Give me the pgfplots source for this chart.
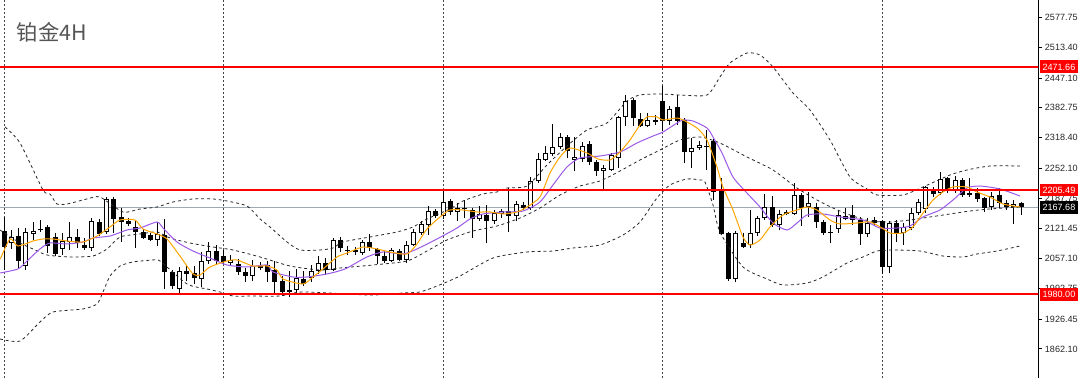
\documentclass[border=0pt]{standalone}
\usepackage{pgfplots}
\pgfplotsset{compat=1.18}
\usepackage{pgfplotstable}
\usepackage{fontspec}
\setmainfont{Liberation Sans}
\newfontfamily\cjk{Noto Sans CJK SC}
\definecolor{maorange}{RGB}{255,165,0}
\definecolor{mapurple}{RGB}{155,89,232}
\definecolor{bidgray}{RGB}{160,168,180}
\definecolor{sepgray}{RGB}{70,70,70}
\definecolor{titlegray}{RGB}{85,85,85}

\pgfplotstableread{
i O H L C
0 2116.7 2147.0 2032.5 2082.2
1 2090.8 2118.9 2077.9 2103.8
2 2105.9 2123.2 2036.8 2051.9
3 2041.1 2123.2 2032.5 2114.6
4 2110.3 2136.2 2097.3 2116.7
5 2121.1 2140.5 2114.6 2118.9
6 2125.4 2129.7 2069.2 2084.3
7 2103.8 2112.4 2062.7 2067.1
8 2077.9 2112.4 2064.9 2095.1
9 2093.0 2136.2 2075.7 2103.8
10 2103.8 2121.1 2080.0 2090.8
11 2086.5 2101.6 2075.7 2080.0
12 2080.0 2144.8 2073.5 2138.3
13 2136.2 2142.7 2105.9 2110.3
14 2114.6 2190.2 2110.3 2185.9
15 2185.9 2190.2 2112.4 2142.7
16 2147.0 2166.4 2093.0 2136.2
17 2138.3 2144.8 2127.5 2131.9
18 2125.4 2138.3 2080.0 2114.6
19 2114.6 2121.1 2099.5 2101.6
20 2108.1 2112.4 2095.1 2097.3
21 2097.3 2136.2 2084.3 2110.3
22 2108.1 2142.7 1991.5 2028.2
23 2028.2 2032.5 1991.5 1997.9
24 1991.5 2039.0 1982.8 2030.3
25 2030.3 2043.3 2008.7 2023.9
26 2026.0 2041.1 2002.3 2015.2
27 2013.1 2071.4 1995.8 2051.9
28 2051.9 2093.0 2045.5 2073.5
29 2073.5 2086.5 2043.3 2051.9
30 2062.7 2075.7 2045.5 2049.8
31 2047.6 2064.9 2043.3 2054.1
32 2045.5 2056.3 2021.7 2028.2
33 2028.2 2036.8 2006.6 2019.5
34 2019.5 2054.1 2008.7 2041.1
35 2041.1 2049.8 2032.5 2036.8
36 2043.3 2051.9 2006.6 2028.2
37 2032.5 2051.9 1978.5 2006.6
38 2008.7 2019.5 1976.3 1985.0
39 1985.0 2030.3 1974.2 1989.3
40 1989.3 2034.7 1980.7 2015.2
41 2013.1 2030.3 1997.9 2002.3
42 2015.2 2043.3 2006.6 2030.3
43 2030.3 2062.7 2023.9 2047.6
44 2047.6 2058.4 2021.7 2032.5
45 2032.5 2101.6 2030.3 2097.3
46 2097.3 2103.8 2071.4 2080.0
47 2075.7 2084.3 2064.9 2073.5
48 2075.7 2082.2 2064.9 2071.4
49 2069.2 2097.3 2064.9 2093.0
50 2093.0 2110.3 2073.5 2080.0
51 2077.9 2080.0 2045.5 2062.7
52 2062.7 2073.5 2047.6 2051.9
53 2051.9 2080.0 2049.8 2075.7
54 2073.5 2077.9 2051.9 2054.1
55 2054.1 2095.1 2047.6 2086.5
56 2086.5 2121.1 2084.3 2114.6
57 2112.4 2138.3 2108.1 2131.9
58 2129.7 2170.7 2108.1 2159.9
59 2159.9 2164.3 2144.8 2149.1
60 2149.1 2203.1 2142.7 2179.4
61 2181.5 2185.9 2151.3 2157.8
62 2157.8 2177.2 2138.3 2166.4
63 2166.4 2183.7 2144.8 2164.3
64 2162.1 2166.4 2101.6 2142.7
65 2142.7 2170.7 2138.3 2153.5
66 2151.3 2172.9 2090.8 2138.3
67 2138.3 2162.1 2131.9 2155.6
68 2153.5 2164.3 2144.8 2159.9
69 2159.9 2209.6 2114.6 2149.1
70 2149.1 2181.5 2138.3 2175.1
71 2172.9 2179.4 2162.1 2166.4
72 2166.4 2233.4 2162.1 2224.7
73 2224.7 2285.2 2220.4 2272.3
74 2270.1 2300.3 2267.9 2285.2
75 2283.1 2347.9 2278.7 2298.2
76 2298.2 2328.4 2293.9 2319.8
77 2319.8 2324.1 2274.4 2289.5
78 2270.1 2319.8 2246.3 2276.6
79 2272.3 2309.0 2265.8 2300.3
80 2304.7 2311.1 2259.3 2265.8
81 2265.8 2270.1 2235.5 2246.3
82 2246.3 2259.3 2205.3 2252.8
83 2248.5 2285.2 2246.3 2280.9
84 2274.4 2365.1 2252.8 2363.0
85 2363.0 2410.5 2343.5 2397.5
86 2399.7 2404.0 2343.5 2360.8
87 2358.7 2371.6 2341.4 2343.5
88 2343.5 2371.6 2341.4 2356.5
89 2356.5 2367.3 2345.7 2352.2
90 2397.5 2429.9 2332.7 2354.3
91 2354.3 2386.7 2345.7 2380.3
92 2384.6 2410.5 2345.7 2354.3
93 2356.5 2360.8 2263.6 2287.4
94 2287.4 2317.6 2252.8 2296.0
95 2296.0 2311.1 2291.7 2302.5
96 2298.2 2334.9 2248.5 2300.3
97 2311.1 2315.5 2183.7 2201.0
98 2205.3 2231.2 2108.1 2110.3
99 2112.4 2114.6 2008.7 2013.1
100 2013.1 2116.7 2006.6 2112.4
101 2090.8 2112.4 2080.0 2082.2
102 2086.5 2162.1 2080.0 2112.4
103 2112.4 2149.1 2105.9 2144.8
104 2144.8 2196.7 2140.5 2168.6
105 2168.6 2192.3 2125.4 2129.7
106 2129.7 2162.1 2118.9 2153.5
107 2157.8 2162.1 2151.3 2153.5
108 2153.5 2220.4 2151.3 2194.5
109 2194.5 2198.8 2127.5 2166.4
110 2168.6 2201.0 2147.0 2177.2
111 2168.6 2177.2 2123.2 2136.2
112 2136.2 2140.5 2108.1 2112.4
113 2114.6 2129.7 2090.8 2112.4
114 2121.1 2162.1 2112.4 2151.3
115 2142.7 2166.4 2140.5 2149.1
116 2151.3 2172.9 2129.7 2140.5
117 2140.5 2147.0 2086.5 2110.3
118 2110.3 2144.8 2103.8 2134.0
119 2140.5 2147.0 2129.7 2134.0
120 2138.3 2140.5 2023.9 2039.0
121 2039.0 2138.3 2026.0 2134.0
122 2134.0 2140.5 2093.0 2112.4
123 2112.4 2134.0 2086.5 2125.4
124 2123.2 2166.4 2118.9 2155.6
125 2155.6 2185.9 2151.3 2179.4
126 2164.3 2213.9 2155.6 2211.8
127 2207.5 2211.8 2190.2 2196.7
128 2198.8 2244.2 2194.5 2229.1
129 2231.2 2233.4 2198.8 2203.1
130 2203.1 2235.5 2198.8 2226.9
131 2226.9 2231.2 2190.2 2194.5
132 2194.5 2231.2 2190.2 2198.8
133 2198.8 2209.6 2179.4 2185.9
134 2188.0 2190.2 2157.8 2166.4
135 2168.6 2201.0 2162.1 2192.3
136 2194.5 2209.6 2166.4 2177.2
137 2177.2 2183.7 2162.1 2168.6
138 2168.6 2183.7 2131.9 2175.1
139 2177.2 2179.4 2151.3 2167.7
}\candles

\begin{document}
\begin{tikzpicture}
\useasboundingbox (0,0) rectangle (810pt,283.5pt);
\begin{axis}[
  at={(0,0)}, anchor=south west,
  scale only axis, width=778.5pt, height=283.5pt,
  xmin=-0.547, xmax=141.32, ymin=1799.2, ymax=2615.7,
  axis x line=none, axis y line*=right,
  axis line style={black, line width=0.75pt},
  ytick={2577.75,2513.40,2447.10,2382.75,2318.40,2252.10,2187.75,2121.45,2057.10,1992.75,1926.45,1862.10},
  yticklabels={2577.75,2513.40,2447.10,2382.75,2318.40,2252.10,2187.75,2121.45,2057.10,1992.75,1926.45,1862.10},
  tick align=outside, major tick length=3pt,
  tick style={black, line width=0.6pt},
  yticklabel style={font=\fontsize{6.8}{8}\selectfont, text=black!85, inner sep=0pt, xshift=2pt},
  clip mode=individual,
  candle/.style={draw=none, mark=none, forget plot,
    error bars/y dir=plus, error bars/y explicit, error bars/error mark=none},
]
% week separators
\foreach \s in {0,30,60,90,120}{
  \edef\tmp{\noexpand\addplot[sepgray, line width=0.75pt, dash pattern=on 1.5pt off 1.5pt, forget plot] coordinates {(\s,1790) (\s,2620)};}
  \tmp
}
% bid line
\addplot[bidgray, line width=0.75pt, forget plot] coordinates {(-1,2167.68) (142,2167.68)};

% wicks
\addplot[candle, error bars/error bar style={draw=black, solid, line width=0.75pt}]
  table[x=i, y=L, y error plus expr=\thisrow{H}-\thisrow{L}] {\candles};
% bodies (black)
\addplot[candle, error bars/error bar style={draw=black, solid, line width=3.75pt}]
  table[x=i, y expr={min(\thisrow{O},\thisrow{C})}, y error plus expr={max(abs(\thisrow{C}-\thisrow{O}),1.6)}] {\candles};
% bull bodies (white inside)
\addplot[candle, error bars/error bar style={draw=white, solid, line width=2.25pt}]
  table[x=i, y expr={\thisrow{O}+2.16}, y error plus expr={max(\thisrow{C}-\thisrow{O}-4.32,0)}] {\candles};

% Bollinger upper
\addplot[black!85, line width=0.6pt, dash pattern=on 2.2pt off 2.2pt, smooth, tension=0.4] coordinates {
(0.14,2341.4) (2.19,2306.8) (5.33,2205.3) (6.29,2196.7) (7.24,2175.1) (8.61,2175.1) (11.34,2185.9) (13.12,2190.2)
(16.26,2157.8) (18.59,2164.3) (20.91,2168.6) (23.10,2179.4) (25.83,2185.9) (28.56,2185.9) (30.48,2181.5) (33.21,2170.7)
(34.99,2142.7) (36.35,2125.4) (38.68,2093.0) (40.45,2075.7) (43.19,2075.7) (44.96,2080.0) (46.33,2093.0) (50.02,2103.8)
(53.71,2114.6) (55.90,2125.4) (57.81,2142.7) (60.95,2164.3) (62.73,2181.5) (65.46,2196.7) (67.38,2201.0) (68.74,2209.6)
(71.48,2213.9) (74.21,2259.3) (76.94,2300.3) (79.68,2334.9) (82.41,2350.0) (85.14,2397.5) (86.92,2410.5) (89.65,2412.7)
(92.39,2410.5) (96.08,2410.5) (97.85,2449.4) (99.22,2479.6) (101.54,2501.2) (103.32,2496.9) (105.10,2471.0) (107.83,2414.8)
(110.15,2378.1) (112.89,2313.3) (115.62,2233.4) (117.94,2207.5) (119.31,2194.5) (122.86,2194.5) (125.60,2211.8) (129.29,2237.7)
(131.61,2248.5) (134.75,2257.1) (138.86,2257.1)};
% Bollinger middle
\addplot[black!85, line width=0.6pt, dash pattern=on 2.2pt off 2.2pt, smooth, tension=0.4] coordinates {
(-0.55,2118.9) (2.19,2090.8) (3.96,2077.9) (5.88,2064.9) (9.02,2060.6) (12.16,2062.7) (14.08,2077.9) (15.85,2103.8)
(18.59,2110.3) (20.91,2114.6) (22.69,2101.6) (25.42,2090.8) (28.56,2082.2) (31.30,2075.7) (34.99,2060.6) (39.09,2041.1)
(43.19,2032.5) (45.92,2036.8) (50.43,2043.3) (55.08,2051.9) (57.81,2073.5) (60.54,2097.3) (64.10,2116.7) (67.38,2127.5)
(70.52,2144.8) (73.25,2166.4) (75.99,2194.5) (78.72,2213.9) (81.45,2224.7) (84.19,2246.3) (86.92,2270.1) (89.65,2291.7)
(92.39,2313.3) (95.12,2319.8) (97.85,2306.8) (101.54,2276.6) (105.10,2248.5) (108.38,2209.6) (111.11,2183.7) (113.30,2166.4)
(115.62,2151.3) (118.35,2138.3) (121.09,2136.2) (123.82,2140.5) (126.56,2147.0) (129.29,2153.5) (132.02,2159.9) (134.75,2164.3)
(138.86,2168.6)};
% Bollinger lower
\addplot[black!85, line width=0.6pt, dash pattern=on 2.2pt off 2.2pt, smooth, tension=0.4] coordinates {
(-0.55,1883.5) (2.19,1879.1) (4.92,1920.2) (6.70,1941.8) (10.80,1948.3) (12.71,1959.1) (13.53,1985.0) (14.49,2019.5)
(15.85,2041.1) (17.63,2049.8) (20.36,2054.1) (21.32,2051.9) (25.01,2002.3) (27.74,1991.5) (29.52,1985.0) (31.30,1976.3)
(34.03,1976.3) (37.72,1976.3) (40.86,1985.0) (50.02,1978.5) (54.53,1982.8) (56.85,1985.0) (59.18,1997.9) (62.32,2019.5)
(66.83,2058.4) (71.48,2071.4) (75.03,2073.5) (77.76,2080.0) (81.45,2086.5) (84.60,2108.1) (86.92,2136.2) (89.24,2188.0)
(91.02,2216.1) (93.35,2229.1) (95.12,2226.9) (95.80,2222.6) (96.90,2172.9) (97.85,2114.6) (101.0,2039.0) (104.28,2013.1)
(106.46,2000.1) (109.74,2004.4) (111.93,2017.4) (115.21,2047.6) (117.40,2060.6) (119.31,2073.5) (121.50,2075.7) (125.19,2073.5)
(128.33,2062.7) (131.07,2060.6) (132.98,2067.1) (135.71,2073.5) (138.86,2084.3)};

% purple MA
\addplot[mapurple, line width=0.75pt, smooth, tension=0.4] coordinates {
(-0.55,2026.0) (1.91,2034.7) (3.14,2051.9) (4.92,2077.9) (6.29,2090.8) (8.61,2088.7) (10.80,2093.0) (12.16,2101.6)
(14.49,2105.9) (16.81,2118.9) (18.59,2123.2) (20.91,2136.2) (21.73,2123.2) (23.64,2093.0) (25.83,2073.5) (28.15,2058.4)
(30.48,2043.3) (33.21,2039.0) (35.94,2043.3) (36.76,2028.2) (39.50,2017.4) (41.41,2017.4) (44.14,2023.9) (46.60,2034.7)
(49.61,2060.6) (51.80,2071.4) (54.53,2067.1) (56.44,2077.9) (59.18,2099.5) (61.91,2123.2) (63.69,2142.7) (65.46,2153.5)
(68.20,2157.8) (70.93,2159.9) (73.25,2179.4) (75.03,2216.1) (76.94,2255.0) (78.72,2274.4) (81.45,2278.7) (84.19,2287.4)
(86.51,2306.8) (88.70,2321.9) (90.06,2330.6) (91.98,2350.0) (92.80,2356.5) (94.16,2354.3) (96.08,2339.2) (96.90,2319.8)
(98.13,2285.2) (99.63,2233.4) (101.54,2198.8) (103.32,2168.6) (105.10,2134.0) (107.01,2118.9) (108.38,2134.0) (109.74,2151.3)
(111.93,2153.5) (114.25,2147.0) (117.40,2140.5) (119.72,2123.2) (122.04,2123.2) (123.82,2127.5) (125.60,2147.0) (127.92,2162.1)
(129.70,2183.7) (131.61,2209.6) (133.39,2213.9) (136.12,2207.5) (138.86,2192.3)};
% orange MA
\addplot[maorange, line width=0.75pt, smooth, tension=0.4] coordinates {
(-0.5,2056.3) (0.82,2099.5) (1.91,2084.3) (3.96,2095.1) (5.33,2099.5) (6.70,2099.5) (8.61,2095.1) (10.80,2093.0)
(12.71,2105.9) (14.49,2125.4) (15.85,2140.5) (17.90,2140.5) (19.0,2121.1) (20.91,2110.3) (22.28,2099.5) (24.05,2062.7)
(25.83,2023.9) (26.79,2021.7) (28.15,2039.0) (30.48,2051.9) (31.84,2054.1) (34.03,2041.1) (35.94,2041.1) (37.31,2032.5)
(38.13,2013.1) (40.86,2002.3) (42.23,2017.4) (43.60,2034.7) (45.51,2060.6) (46.88,2069.2) (49.06,2082.2) (50.98,2077.9)
(52.75,2071.4) (55.08,2067.1) (56.44,2088.7) (57.81,2121.1) (59.59,2147.0) (60.95,2162.1) (62.73,2162.1) (64.64,2157.8)
(66.42,2157.8) (68.20,2153.5) (70.11,2157.8) (71.48,2168.6) (73.25,2190.2) (74.62,2242.0) (75.99,2276.6) (77.35,2296.0)
(79.68,2285.2) (81.18,2272.3) (82.82,2270.1) (84.19,2287.4) (85.55,2313.3) (86.92,2345.7) (87.88,2363.0) (89.24,2363.0)
(90.06,2356.5) (91.98,2360.8) (92.80,2356.5) (94.71,2339.2) (96.08,2313.3) (97.44,2255.0) (98.26,2211.8) (99.63,2162.1)
(101.0,2103.8) (101.96,2086.5) (103.32,2097.3) (104.69,2125.4) (106.46,2151.3) (108.38,2162.1) (109.74,2168.6) (111.11,2162.1)
(112.89,2140.5) (114.25,2131.9) (116.58,2134.0) (118.35,2136.2) (120.0,2123.2) (121.09,2112.4) (122.86,2112.4) (124.23,2125.4)
(125.60,2155.6) (126.97,2183.7) (128.33,2201.0) (129.70,2211.8) (131.61,2211.8) (132.98,2201.0) (134.75,2190.2) (136.53,2175.1)
(138.86,2168.6)};

% red level lines
\addplot[red, line width=1.5pt, forget plot] coordinates {(-1,2471.66) (142,2471.66)};
\addplot[red, line width=1.5pt, forget plot] coordinates {(-1,2205.49) (142,2205.49)};
\addplot[red, line width=1.5pt, forget plot] coordinates {(-1,1980.00) (142,1980.00)};

\coordinate (r1) at (axis cs:141.32,2471.66);
\coordinate (r2) at (axis cs:141.32,2205.49);
\coordinate (r3) at (axis cs:141.32,1980.00);
\coordinate (b1) at (axis cs:141.32,2167.68);
\end{axis}
\tikzset{pricebox/.style={anchor=west, xshift=1.2pt, text=white, font=\fontsize{6.8}{8}\selectfont, text height=5pt, text depth=0pt, inner xsep=2pt, inner ysep=2.3pt}}
\node[pricebox, fill=red] at (r1) {2471.66};
\node[pricebox, fill=red] at (r2) {2205.49};
\node[pricebox, fill=red] at (r3) {1980.00};
\node[pricebox, fill=black] at (b1) {2167.68};
\node[anchor=west, inner sep=0pt, font=\cjk\fontsize{16}{16}\selectfont, text=titlegray] at (12.5pt,259.5pt) {铂金4H};
\end{tikzpicture}
\end{document}
